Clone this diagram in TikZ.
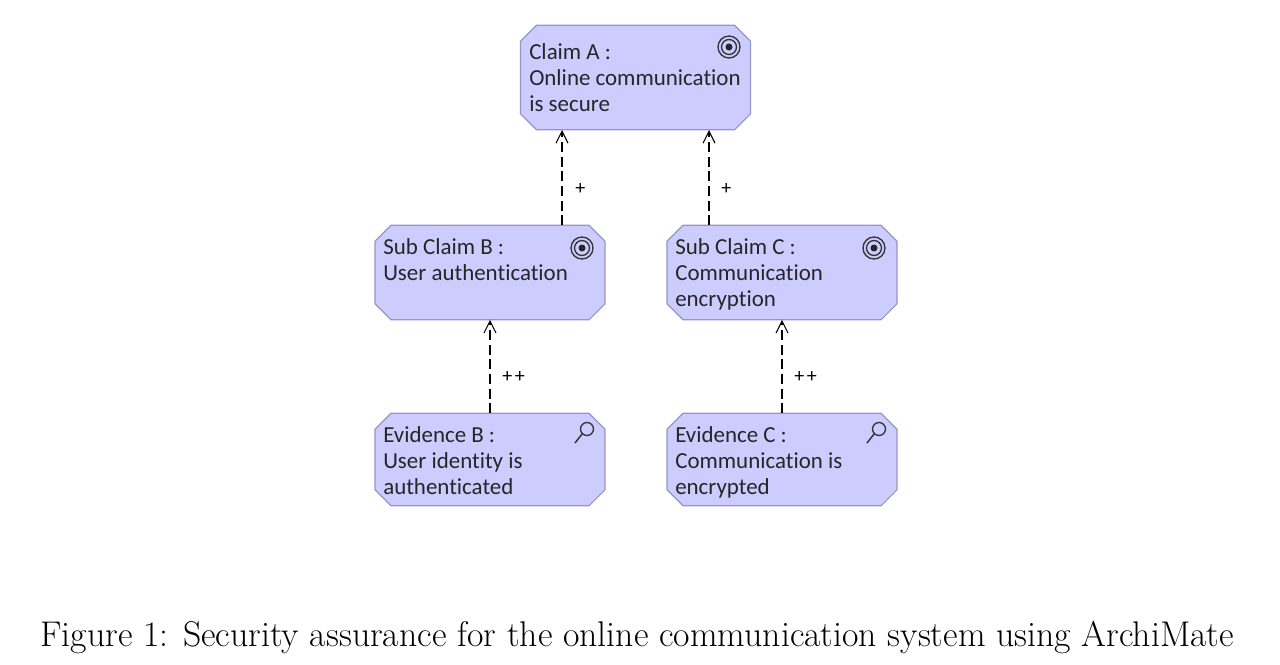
\documentclass[tikz,border=0pt]{standalone}
\usepackage{fontspec}
\usetikzlibrary{calc,arrows.meta}
\newfontfamily\boxfont[Ligatures=NoCommon]{Carlito}
\definecolor{boxfill}{RGB}{204,204,255}
\definecolor{boxline}{RGB}{150,150,195}
\newcommand{\octo}[1]{%
  \draw[octoline] ($(#1.north west)+(16,0)$) -- ($(#1.north east)+(-16,0)$) -- ($(#1.north east)+(0,16)$)
    -- ($(#1.south east)+(0,-16)$) -- ($(#1.south east)+(-16,0)$) -- ($(#1.south west)+(16,0)$)
    -- ($(#1.south west)+(0,-16)$) -- ($(#1.north west)+(0,16)$) -- cycle;}
\tikzset{
  x=0.75pt,y=-0.75pt,
  claimbox/.style={rectangle,inner sep=0pt,outer sep=0pt,minimum width=172.5pt},
  octoline/.style={draw=boxline,fill=boxfill,line width=0.9pt,line join=round},
  boxtext/.style={anchor=north west,align=left,inner sep=0pt,text=black!85,
    font=\boxfont\fontsize{17.2}{19.6}\selectfont},
  linklabel/.style={anchor=west,inner sep=0pt,font=\boxfont\fontsize{15}{17}\selectfont},
  realizes/.style={draw=black,line width=1pt,dash pattern=on 7.5pt off 3.5pt,
    -{Straight Barb[length=9pt,width=9pt,line width=0.8pt]}},
  goalring/.style={draw=black!80,line width=1pt,fill=none},
  caption/.style={anchor=base west,inner sep=0pt,font=\fontsize{26.8}{30}\selectfont},
}
\begin{document}
\begin{tikzpicture}
\useasboundingbox (0,0) rectangle (1280,664);
\node[claimbox,minimum height=78.5pt] (a) at (635.5,77.5) {};
\node[claimbox,minimum height=71pt] (b) at (490,272.5) {};
\node[claimbox,minimum height=71pt] (c) at (782,272.5) {};
\node[claimbox,minimum height=69.5pt] (e) at (490,459.5) {};
\node[claimbox,minimum height=69.5pt] (f) at (782,459.5) {};
\octo{a}\octo{b}\octo{c}\octo{e}\octo{f}
\node[boxtext] (ta) at (529,43) {Claim A :\\Online communication\\is secure};
\node[boxtext] (tb) at (383,238) {Sub Claim B :\\User authentication};
\node[boxtext] (tc) at (675,238) {Sub Claim C :\\Communication\\encryption};
\node[boxtext] (te) at (383,426) {Evidence B :\\User identity is\\authenticated};
\node[boxtext] (tf) at (675,426) {Evidence C :\\Communication is\\encrypted};
\coordinate (al) at (562,130);
\coordinate (ar) at (709,130);
\draw[realizes] (b.north -| al) -- (al);
\draw[realizes] (c.north -| ar) -- (ar);
\draw[realizes] (e.north) -- (b.south);
\draw[realizes] (f.north) -- (c.south);
\node[linklabel] (l1) at (575,189) {+};
\node[linklabel] (l2) at (721,189) {+};
\node[linklabel] (l3) at (502,377) {+\kern2pt+};
\node[linklabel] (l4) at (794,377) {+\kern2pt+};
\foreach \cx/\cy in {729/47,582/248,874/248}{
  \draw[goalring] (\cx,\cy) circle[radius=11];
  \draw[goalring] (\cx,\cy) circle[radius=7.5];
  \fill[black!85] (\cx,\cy) circle[radius=3.5];
}
\foreach \mx/\my in {587/429,879/429}{
  \draw[black!80,line width=1pt] (\mx,\my) circle[radius=6.5];
  \draw[black!80,line width=1.1pt] (\mx-4.6,\my+4.6) -- (\mx-12,\my+14);
}
\node[caption] (cap) at (40,646) {Figure 1: Security assurance for the online communication system using ArchiMate};
\end{tikzpicture}
\end{document}
